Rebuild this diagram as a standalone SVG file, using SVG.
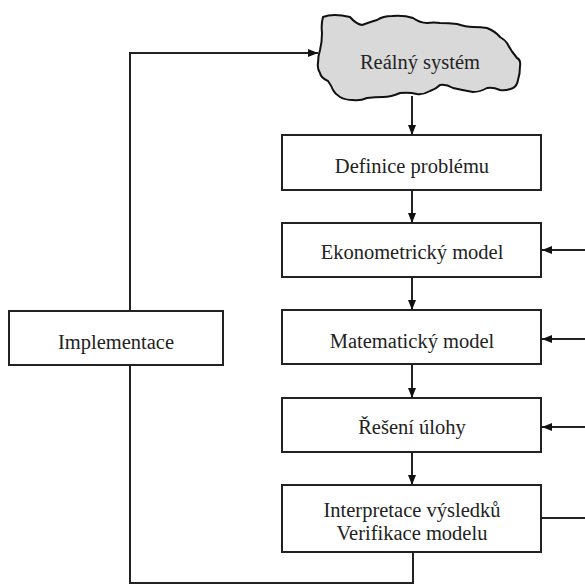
<svg xmlns="http://www.w3.org/2000/svg" width="585" height="585" viewBox="0 0 585 585">
<style>
.box{fill:#fff;stroke:#222;stroke-width:2}
.cloud{fill:#d9d9d9;stroke:#111;stroke-width:2;stroke-linejoin:round}
.lbl{font-family:"Liberation Serif","Times New Roman",serif;font-size:20.5px;fill:#222;text-anchor:middle}
.ln{fill:none;stroke:#222;stroke-width:2}
.arr{fill:none;stroke:#222;stroke-width:2;marker-end:url(#ah)}
</style>
<defs>
<marker id="ah" viewBox="0 0 10 8" refX="10" refY="4" markerWidth="10" markerHeight="8" markerUnits="userSpaceOnUse" orient="auto">
<path d="M0,0 L10,4 L0,8 z" fill="#111"/>
</marker>
</defs>
<rect width="585" height="585" fill="#fff"/>
<g id="connectors">
<path class="arr" d="M130,311 V53 H318"/>
<path class="ln" d="M130,365 V583 H413 V552"/>
<path class="arr" d="M412,96 V135"/>
<path class="arr" d="M412,190 V223"/>
<path class="arr" d="M412,277 V310"/>
<path class="arr" d="M412,364 V398"/>
<path class="arr" d="M412,452 V485"/>
<path class="arr" d="M585,250 H542"/>
<path class="arr" d="M585,339 H542"/>
<path class="arr" d="M585,427 H542"/>
<path class="ln" d="M541,518 H585"/>
</g>
<g id="realny-system">
<path class="cloud" d="M323,17 Q333,13 350,17 Q356,24 362,25 Q370,22 377,20 Q383,16 392,16 Q404,15 413,18 Q420,23 427,23 Q434,22 440,23 Q449,23 457,24 Q466,27 473,27 Q481,27 487,28 Q495,31 500,37 Q505,40 507,43 Q511,51 517,58 Q521,60 520,66 Q520,74 518,80 Q517,86 513,88 Q506,91 500,90 Q493,87 487,88 Q480,92 473,92 Q462,90 453,88 Q446,84 440,85 Q436,89 430,91 Q423,95 417,94 Q409,92 400,93 Q391,97 383,97 Q375,97 367,98 Q360,101 353,100 Q345,100 340,97 Q335,94 333,90 Q331,85 328,81 Q321,78 320,73 Q317,68 318,63 Q318,56 320,50 Q322,42 322,33 Q321,24 323,17 Z"/>
<text class="lbl" x="420" y="69">Reálný systém</text>
</g>
<g id="definice">
<rect class="box" x="282" y="135" width="259" height="55"/>
<text class="lbl" x="412" y="173">Definice problému</text>
</g>
<g id="ekonometricky">
<rect class="box" x="282" y="223" width="259" height="54"/>
<text class="lbl" x="412" y="259">Ekonometrický  model</text>
</g>
<g id="matematicky">
<rect class="box" x="282" y="310" width="259" height="54"/>
<text class="lbl" x="412" y="348">Matematický model</text>
</g>
<g id="reseni">
<rect class="box" x="282" y="398" width="259" height="54"/>
<text class="lbl" x="412" y="434">Řešení úlohy</text>
</g>
<g id="interpretace">
<rect class="box" x="282" y="485" width="259" height="67"/>
<text class="lbl" x="412" y="517">Interpretace výsledků</text>
<text class="lbl" x="412" y="540">Verifikace modelu</text>
</g>
<g id="implementace">
<rect class="box" x="9" y="311" width="214" height="54"/>
<text class="lbl" x="116" y="349">Implementace</text>
</g>
</svg>
